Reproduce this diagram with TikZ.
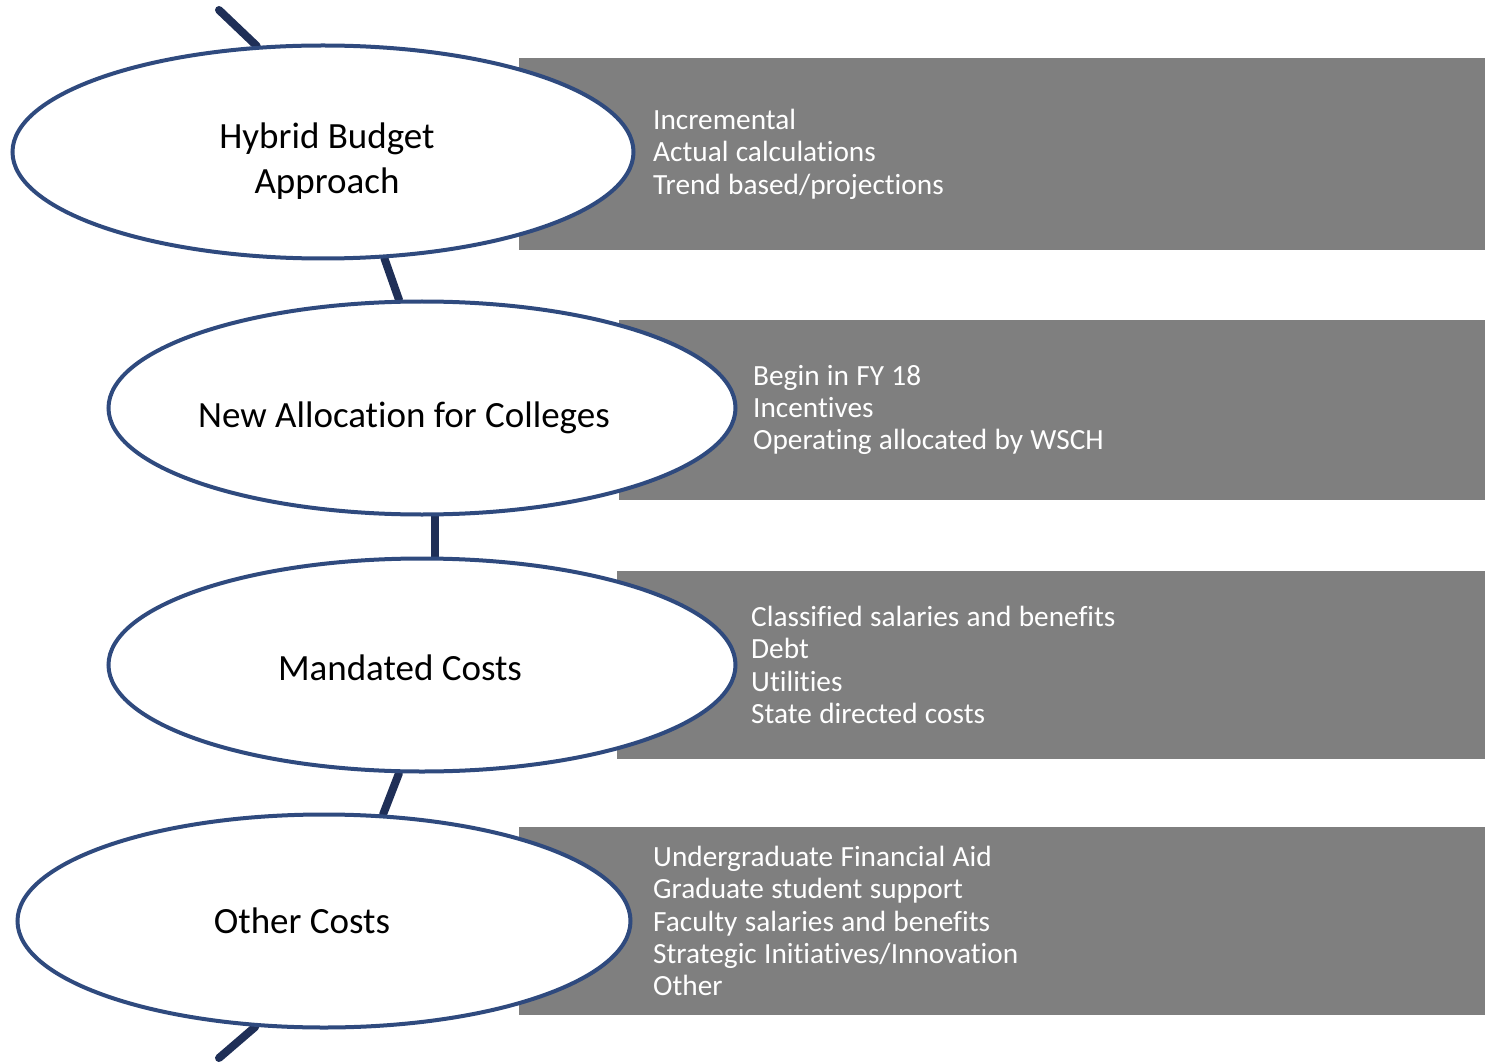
\documentclass[tikz,border=0pt]{standalone}
\usepackage{fontspec}
\setmainfont[Ligatures=NoCommon]{Carlito}
\usetikzlibrary{shapes.geometric}

\definecolor{rimblue}{HTML}{2F4A7E}
\definecolor{linkblue}{HTML}{1F2F57}
\definecolor{boxgray}{HTML}{7F7F7F}

\pgfdeclarelayer{bg}
\pgfsetlayers{bg,main}

\tikzset{
  stage/.style={ellipse, draw=rimblue, line width=4pt, fill=white, inner sep=0pt,
    minimum height=213pt},
  stagetext/.style={align=center, font=\fontsize{37}{45}\selectfont},
  listbox/.style={rectangle, fill=boxgray, anchor=west, inner xsep=134pt, inner ysep=0pt,
    text width=1485pt-#1-268pt, align=left, text=white, font=\fontsize{29.3}{32.4}\selectfont,
    execute at begin node={\spaceskip=0.25em\relax}},
  link/.style={draw=linkblue, line width=8pt, line cap=round}
}

\begin{document}
\begin{tikzpicture}[x=1pt,y=-1pt]
\useasboundingbox (0,0) rectangle (1485,1064);

%% grey boxes on the right
\node[listbox=519pt, minimum height=192pt] (hybridlist) at (519,154)
  {Incremental\\Actual calculations\\Trend based/projections};
\node[listbox=619pt, minimum height=180pt] (alloclist) at (619,410)
  {Begin in FY 18\\Incentives\\Operating allocated by WSCH};
\node[listbox=617pt, minimum height=188pt] (mandlist) at (617,665)
  {Classified salaries and benefits\\Debt\\Utilities\\State directed costs};
\node[listbox=519pt, minimum height=188pt] (otherlist) at (519,921)
  {Undergraduate Financial Aid\\Graduate student support\\Faculty salaries and benefits\\Strategic Initiatives/Innovation\\Other};

%% ellipses
\node[stage, minimum width=621pt] (hybrid) at (323,152) {};
\node[stage, minimum width=627pt] (alloc) at (422,408) {};
\node[stage, minimum width=627pt] (mandated) at (422,665) {};
\node[stage, minimum width=613pt] (other) at (324,921) {};

%% titles, set a little off centre
\node[stagetext, xshift=4pt, yshift=-9pt] (hybridtitle) at (hybrid) {Hybrid Budget\\Approach};
\node[stagetext, xshift=-18pt, yshift=-10pt] (alloctitle) at (alloc) {New Allocation for Colleges};
\node[stagetext, xshift=-22pt, yshift=-3pt] (mandtitle) at (mandated) {Mandated Costs};
\node[stagetext, xshift=-22pt] (othertitle) at (other) {Other Costs};

\coordinate (topend) at (219,10);
\coordinate (botend) at (219,1058);

%% chain behind the ellipses
\begin{pgfonlayer}{bg}
\draw[link] (topend) -- (hybrid.122);
\draw[link] (hybrid.-60) -- (alloc.102);
\draw[link] (alloc.-83) -- (mandated.83);
\draw[link] (mandated.-102) -- (other.61);
\draw[link] (other.-123) -- (botend);
\end{pgfonlayer}

\end{tikzpicture}
\end{document}
